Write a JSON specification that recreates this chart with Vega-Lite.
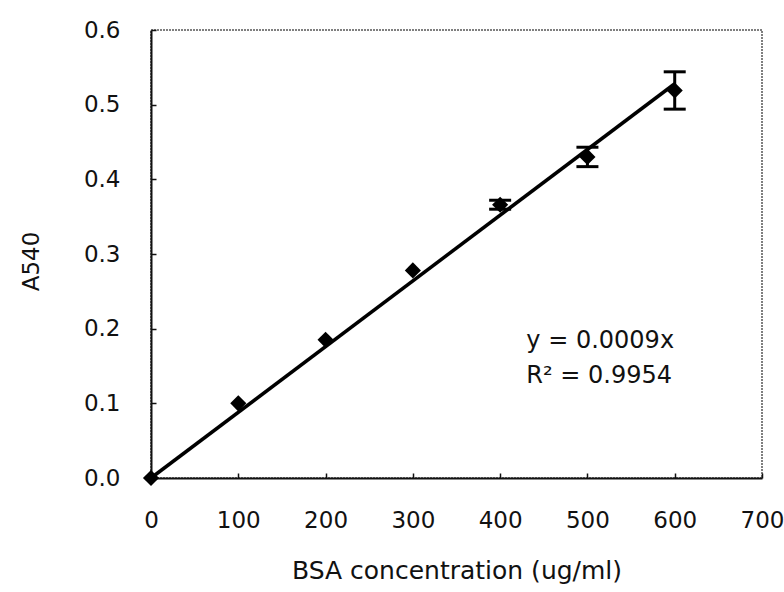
{
  "$schema": "https://vega.github.io/schema/vega-lite/v6.json",
  "width": 611,
  "height": 448,
  "autosize": {"type": "none"},
  "padding": {"left": 151, "top": 30, "right": 22, "bottom": 114},
  "background": "white",
  "config": {
    "font": "DejaVu Sans",
    "view": {"stroke": "#555555", "strokeWidth": 1.5, "strokeDash": [2, 1]}
  },
  "datasets": {
    "absorbance": [
      {"conc": 0, "a540": 0.0, "lo": 0.0, "hi": 0.0},
      {"conc": 100, "a540": 0.100, "lo": 0.100, "hi": 0.100},
      {"conc": 200, "a540": 0.185, "lo": 0.185, "hi": 0.185},
      {"conc": 300, "a540": 0.278, "lo": 0.278, "hi": 0.278},
      {"conc": 400, "a540": 0.366, "lo": 0.360, "hi": 0.372},
      {"conc": 500, "a540": 0.430, "lo": 0.417, "hi": 0.443},
      {"conc": 600, "a540": 0.519, "lo": 0.494, "hi": 0.544}
    ],
    "fit": [
      {"conc": 0, "a540": 0.0},
      {"conc": 600, "a540": 0.528}
    ],
    "equation": [
      {"label": ["y = 0.0009x", "R² = 0.9954"]}
    ]
  },
  "layer": [
    {
      "data": {"name": "fit"},
      "mark": {"type": "line", "color": "#000000", "strokeWidth": 3.5},
      "encoding": {
        "x": {
          "field": "conc",
          "type": "quantitative",
          "title": "BSA concentration (ug/ml)",
          "scale": {"domain": [0, 700], "nice": false},
          "axis": {
            "title": "BSA concentration (ug/ml)",
            "values": [0, 100, 200, 300, 400, 500, 600, 700],
            "grid": false,
            "domainColor": "#111111",
            "domainWidth": 2,
            "tickColor": "#111111",
            "tickWidth": 1.5,
            "tickSize": -5,
            "labelFlush": false,
            "labelOverlap": false,
            "labelFont": "DejaVu Sans",
            "labelFontSize": 23,
            "labelColor": "#111111",
            "labelPadding": 36,
            "titleFont": "DejaVu Sans",
            "titleFontSize": 25,
            "titleFontWeight": "normal",
            "titleColor": "#111111",
            "titlePadding": 26
          }
        },
        "y": {
          "field": "a540",
          "type": "quantitative",
          "title": "A540",
          "scale": {"domain": [0, 0.6], "nice": false},
          "axis": {
            "title": "A540",
            "values": [0, 0.1, 0.2, 0.3, 0.4, 0.5, 0.6],
            "format": ".1f",
            "grid": false,
            "domainColor": "#111111",
            "domainWidth": 2,
            "tickColor": "#111111",
            "tickWidth": 1.5,
            "tickSize": -5,
            "labelFlush": false,
            "labelOverlap": false,
            "labelFont": "DejaVu Sans",
            "labelFontSize": 23,
            "labelColor": "#111111",
            "labelPadding": 36,
            "titleFont": "DejaVu Sans",
            "titleFontSize": 23,
            "titleFontWeight": "normal",
            "titleColor": "#111111",
            "titlePadding": 40,
            "titleY": 231
          }
        }
      }
    },
    {
      "data": {"name": "absorbance"},
      "transform": [{"filter": "datum.hi > datum.lo"}],
      "mark": {
        "type": "errorbar",
        "color": "#000000",
        "opacity": 1,
        "rule": {"strokeWidth": 3, "opacity": 1, "color": "#000000"},
        "ticks": {"size": 22, "thickness": 3, "color": "#000000", "opacity": 1}
      },
      "encoding": {
        "x": {"field": "conc", "type": "quantitative", "title": "BSA concentration (ug/ml)"},
        "y": {"field": "lo", "type": "quantitative", "title": "A540"},
        "y2": {"field": "hi"}
      }
    },
    {
      "data": {"name": "absorbance"},
      "mark": {"type": "point", "shape": "diamond", "filled": true, "color": "#000000", "size": 260, "opacity": 1},
      "encoding": {
        "x": {"field": "conc", "type": "quantitative", "title": "BSA concentration (ug/ml)"},
        "y": {"field": "a540", "type": "quantitative", "title": "A540"}
      }
    },
    {
      "data": {"name": "equation"},
      "mark": {"type": "text", "align": "left", "baseline": "middle", "fontSize": 24, "lineHeight": 35, "color": "#111111", "font": "DejaVu Sans"},
      "encoding": {
        "x": {"datum": 430},
        "y": {"datum": 0.183},
        "text": {"field": "label"}
      }
    }
  ]
}
